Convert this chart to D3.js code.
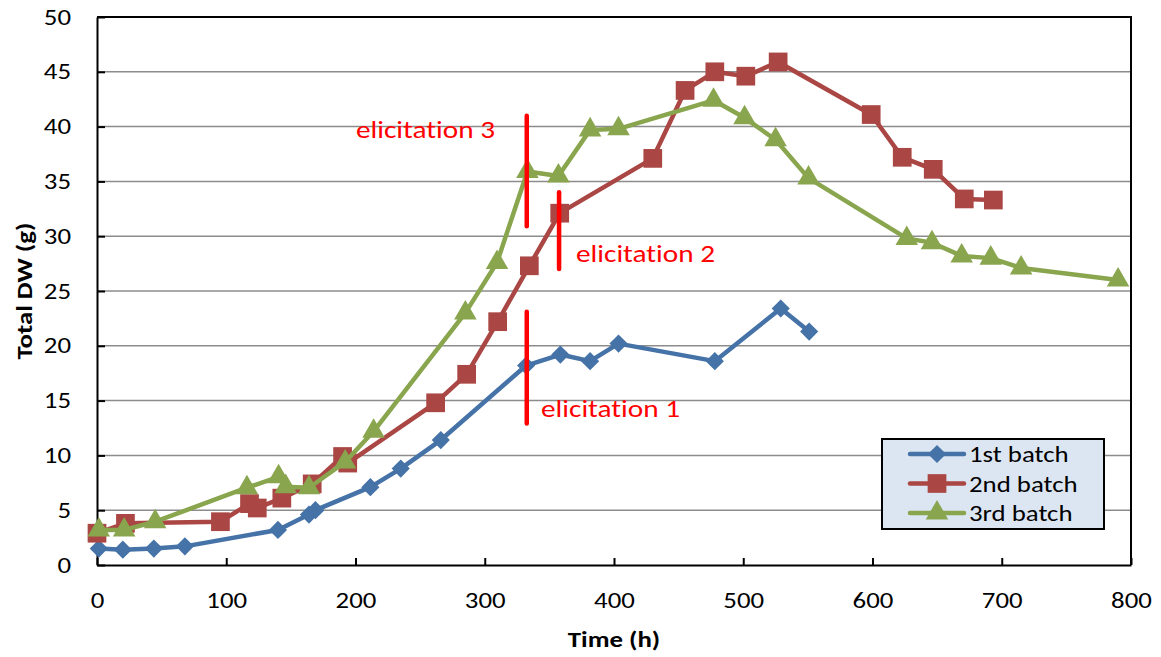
<!DOCTYPE html>
<html>
<head>
<meta charset="utf-8">
<script src="https://cdn.jsdelivr.net/npm/d3@7"></script>
<style>
  body { margin: 0; background: #fff; }
  text { font-family: Carlito, Calibri, "Open Sans", sans-serif; font-variant-ligatures: none; }
</style>
</head>
<body>
<div id="chart"></div>
<script>
// data
const batch1Time = [1.4, 20, 44, 68, 140, 164, 169, 211.5, 235, 266, 332, 358.5, 381.5, 403.5, 478, 529, 551];
const batch1DW   = [1.5, 1.4, 1.5, 1.7, 3.2, 4.6, 5.0, 7.1, 8.8, 11.4, 18.2, 19.2, 18.6, 20.2, 18.6, 23.4, 21.3];

const batch2Time = [0, 22, 95.5, 118, 124, 143, 166.5, 190, 194, 262, 286, 310, 334.5, 358, 430, 455, 478, 502, 527, 599, 623, 647, 671, 693.5];
const batch2DW   = [2.9, 3.8, 3.95, 5.6, 5.2, 6.1, 7.4, 9.9, 9.3, 14.8, 17.4, 22.2, 27.3, 32.1, 37.1, 43.3, 45.0, 44.6, 45.9, 41.1, 37.2, 36.1, 33.4, 33.3];

const batch3Time = [1.4, 21, 45, 116, 140.5, 146, 164, 192, 214, 285, 309.5, 333, 357, 381.5, 403.5, 477, 501, 525, 550.5, 626.5, 646, 669, 691.5, 715, 790];
const batch3DW   = [3.2, 3.2, 3.95, 7.05, 8.05, 7.15, 7.05, 9.4, 12.2, 23.0, 27.6, 35.9, 35.5, 39.7, 39.8, 42.4, 40.8, 38.8, 35.3, 29.8, 29.4, 28.2, 28.0, 27.1, 26.0];

const seriesNames = ['1st batch', '2nd batch', '3rd batch'];
const seriesColors = ['#4572a7', '#aa4643', '#89a54e'];

// elicitation marks: time, y from, y to
const elicitTime  = [332.5, 357.5, 332.5];
const elicitFrom  = [12.9, 27.0, 30.9];
const elicitTo    = [23.1, 34.0, 41.0];
const elicitLabel = ['elicitation 1', 'elicitation 2', 'elicitation 3'];

const xTicks = [0, 100, 200, 300, 400, 500, 600, 700, 800];
const yTicks = [0, 5, 10, 15, 20, 25, 30, 35, 40, 45, 50];

const width = 1161, height = 657;
const margin = {top: 17, right: 30, bottom: 92, left: 97};
const stretch = 1.22;   // the reference text is a little wide

const svg = d3.select('#chart').append('svg')
    .attr('width', width)
    .attr('height', height);

const x = d3.scaleLinear().domain([0, 800]).range([margin.left, width - margin.right]);
const y = d3.scaleLinear().domain([0, 50]).range([height - margin.bottom, margin.top]);

// wide text helper
function wideText(g, tx, ty, str, size, anchor) {
    return g.append('text')
        .attr('transform', `translate(${tx}, ${ty}) scale(${stretch}, 1)`)
        .attr('text-anchor', anchor || 'start')
        .attr('font-size', size)
        .text(str);
}

// gridlines
svg.append('g')
    .selectAll('line')
    .data(yTicks.slice(1, -1))
    .enter().append('line')
    .attr('x1', x(0)).attr('x2', x(800))
    .attr('y1', d => y(d)).attr('y2', d => y(d))
    .attr('stroke', '#8c8c8c')
    .attr('stroke-width', 1.5);

// axes
let xAxis = svg.append('g')
    .attr('transform', `translate(0, ${y(0)})`)
    .call(d3.axisBottom(x).tickValues(xTicks).tickSizeInner(-7).tickSizeOuter(0).tickPadding(27));
let yAxis = svg.append('g')
    .attr('transform', `translate(${x(0)}, 0)`)
    .call(d3.axisLeft(y).tickValues(yTicks).tickSizeInner(-8).tickSizeOuter(0));

[xAxis, yAxis].forEach(a => {
    a.select('.domain').attr('stroke', '#000').attr('stroke-width', 2);
    a.selectAll('.tick line').attr('stroke', '#000').attr('stroke-width', 2);
    a.selectAll('.tick text')
        .attr('font-size', 22)
        .attr('fill', '#000')
        .attr('transform', `scale(${stretch}, 1)`);
});
yAxis.selectAll('.tick text').attr('x', -26 / stretch);

// top and right frame
svg.append('path')
    .attr('d', `M${x(0)},${y(50)}H${x(800)}V${y(0)}`)
    .attr('fill', 'none')
    .attr('stroke', '#000')
    .attr('stroke-width', 2);

// axis titles
wideText(svg, (x(0) + x(800)) / 2, 647, 'Time (h)', 22, 'middle')
    .attr('font-weight', 'bold');

svg.append('text')
    .attr('transform', `translate(32, ${(y(0) + y(50)) / 2}) rotate(-90) scale(${stretch}, 1)`)
    .attr('text-anchor', 'middle')
    .attr('font-size', 22)
    .attr('font-weight', 'bold')
    .text('Total DW (g)');

// series
const allSeries = [
    batch1Time.map((t, i) => ({t: t, v: batch1DW[i]})),
    batch2Time.map((t, i) => ({t: t, v: batch2DW[i]})),
    batch3Time.map((t, i) => ({t: t, v: batch3DW[i]}))
];
const seriesShapes = [d3.symbolSquare, d3.symbolSquare, d3.symbolTriangle];
const symSizes = [165, 350, 220];
const symRotate = [45, 0, 0];

const line = d3.line().x(d => x(d.t)).y(d => y(d.v));

allSeries.forEach((s, k) => {
    let g = svg.append('g');
    g.append('path')
        .datum(s)
        .attr('d', line)
        .attr('fill', 'none')
        .attr('stroke', seriesColors[k])
        .attr('stroke-width', 4.5)
        .attr('stroke-linejoin', 'round');
    g.selectAll('.pt')
        .data(s)
        .enter().append('path')
        .attr('class', 'pt')
        .attr('transform', d => `translate(${x(d.t)}, ${y(d.v)}) rotate(${symRotate[k]})`)
        .attr('d', d3.symbol().type(seriesShapes[k]).size(symSizes[k]))
        .attr('fill', seriesColors[k]);
});

// elicitation markers
elicitTime.forEach((t, i) => {
    svg.append('line')
        .attr('x1', x(t)).attr('x2', x(t))
        .attr('y1', y(elicitFrom[i])).attr('y2', y(elicitTo[i]))
        .attr('stroke', '#ff0000')
        .attr('stroke-width', 4.5)
        .attr('stroke-linecap', 'round');
});
const labelPos = [[541, 417, 'start'], [576, 262, 'start'], [495, 138, 'end']];
elicitLabel.forEach((l, i) => {
    wideText(svg, labelPos[i][0], labelPos[i][1], l, 24, labelPos[i][2])
        .attr('fill', '#ff0000');
});

// legend
const legend = svg.append('g').attr('transform', 'translate(882, 439)');
legend.append('rect')
    .attr('width', 222).attr('height', 90)
    .attr('fill', '#dce6f2')
    .attr('stroke', '#000')
    .attr('stroke-width', 2);
seriesNames.forEach((n, k) => {
    let row = legend.append('g').attr('transform', `translate(0, ${15 + k * 29.5})`);
    row.append('line')
        .attr('x1', 28).attr('x2', 82)
        .attr('stroke', seriesColors[k])
        .attr('stroke-width', 4.5)
        .attr('stroke-linecap', 'round');
    row.append('path')
        .attr('transform', `translate(55, 0) rotate(${symRotate[k]})`)
        .attr('d', d3.symbol().type(seriesShapes[k]).size(symSizes[k]))
        .attr('fill', seriesColors[k]);
    wideText(row, 87, 8, n, 22);
});
</script>
</body>
</html>
